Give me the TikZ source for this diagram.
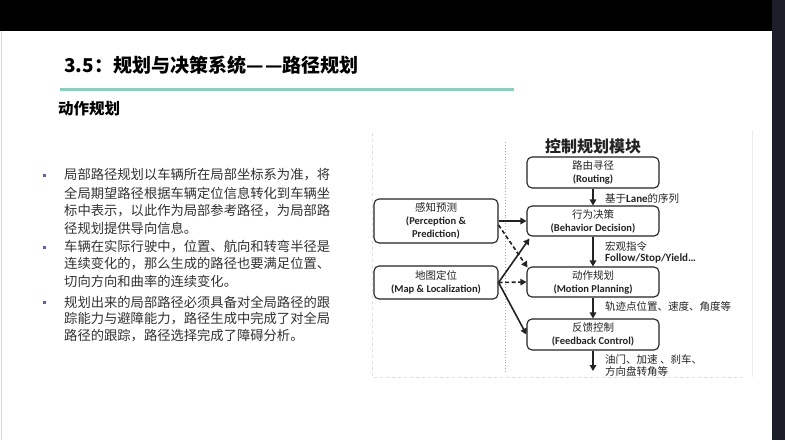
\documentclass[tikz,border=0pt]{standalone}
\usepackage{fontspec}
\setmainfont{Noto Sans CJK SC}
\newfontfamily\en{Carlito}
\usetikzlibrary{arrows.meta}
\definecolor{teal1}{RGB}{140,205,190}
\definecolor{bodytxt}{RGB}{50,50,50}
\definecolor{bulc}{RGB}{95,95,165}
\definecolor{boxc}{RGB}{35,35,35}
\definecolor{navy}{RGB}{28,30,42}
\begin{document}
\begin{tikzpicture}[x=1pt,y=-1pt,
  box/.style={draw=boxc, line width=1.1pt, rounded corners=5pt, inner sep=0pt,
    align=center, text=boxc, font=\fontsize{10.5}{13}\selectfont},
  arr/.style={-{Triangle[length=6pt,width=6.5pt]}, line width=1.6pt, draw=boxc},
  darr/.style={arr, dashed, dash pattern=on 4pt off 2.5pt},
  bline/.style={anchor=west, inner sep=0pt, text=bodytxt, font=\fontsize{13.3}{14}\selectfont},
  lbl/.style={anchor=west, inner sep=0pt, text=boxc, font=\fontsize{10.5}{12}\selectfont},
  bul/.style={fill=bulc, minimum size=3pt, inner sep=0pt}]
\useasboundingbox (0,0) rectangle (785,440);
\fill[white] (0,0) rectangle (785,440);
\fill[black] (0,0) rectangle (772,31);
\fill[navy] (772,0) rectangle (785,440);
\draw[gray!30, line width=0.6pt] (1,31) -- (1,440);

% title
\node[anchor=west, inner sep=0pt, font=\fontsize{19}{20}\selectfont\bfseries] (title) at (64,65) {3.5：规划与决策系统—\kern2pt—路径规划};
\draw[teal1, line width=3pt] (60,89) -- (514,89);
\node[anchor=west, inner sep=0pt, font=\fontsize{15.5}{16}\selectfont\bfseries] (sub) at (58,109) {动作规划};

% bullets
\node[bul] (b1) at (44.5,175) {};
\node[bline] (l1) at (64,175) {局部路径规划以车辆所在局部坐标系为准，将};
\node[bline] (l2) at (64,193) {全局期望路径根据车辆定位信息转化到车辆坐};
\node[bline] (l3) at (64,211) {标中表示，以此作为局部参考路径，为局部路};
\node[bline] (l4) at (64,228) {径规划提供导向信息。};
\node[bul] (b2) at (44.5,247) {};
\node[bline] (l5) at (64,247) {车辆在实际行驶中，位置、航向和转弯半径是};
\node[bline] (l6) at (64,264) {连续变化的，那么生成的路径也要满足位置、};
\node[bline] (l7) at (64,281) {切向方向和曲率的连续变化。};
\node[bul] (b3) at (44.5,302) {};
\node[bline] (l8) at (64,302) {规划出来的局部路径必须具备对全局路径的跟};
\node[bline] (l9) at (64,319) {踪能力与避障能力，路径生成中完成了对全局};
\node[bline] (l10) at (64,336) {路径的跟踪，路径选择完成了障碍分析。};

% faint image frame
\draw[gray!25, dashed, line width=0.5pt] (372,133) -- (372,377) -- (745,377);
\draw[gray!15, line width=0.5pt] (752,130) -- (752,377);
\draw[gray!70, dotted, line width=0.9pt] (505,142) -- (505,372);

% diagram
\node[inner sep=0pt, font=\fontsize{16}{17}\selectfont\bfseries, text=boxc] (mt) at (593,146) {控制规划模块};
\node[box, minimum width=132pt, minimum height=31pt] (rout) at (593,172.5)
  {路由寻径\\{\en\bfseries\fontsize{10.5}{13}\selectfont (Routing)}};
\node[box, minimum width=132pt, minimum height=30pt] (beh) at (593,221)
  {行为决策\\{\en\bfseries\fontsize{10.5}{13}\selectfont (Behavior Decision)}};
\node[box, minimum width=132pt, minimum height=30pt] (mot) at (593,282)
  {动作规划\\{\en\bfseries\fontsize{10.5}{13}\selectfont (Motion Planning)}};
\node[box, minimum width=132pt, minimum height=31pt] (fb) at (593,334.5)
  {反馈控制\\{\en\bfseries\fontsize{10.5}{13}\selectfont (Feedback Control)}};
\node[box, minimum width=124pt, minimum height=44pt] (per) at (436,221)
  {感知预测\\{\en\bfseries\fontsize{10.5}{13}\selectfont (Perception \&}\\{\en\bfseries\fontsize{10.5}{13}\selectfont Prediction)}};
\node[box, minimum width=124pt, minimum height=33pt] (map) at (436,282.5)
  {地图定位\\{\en\bfseries\fontsize{10.5}{13}\selectfont (Map \& Localization)}};
\coordinate (endp) at (593,371);

\draw[arr] (rout.south) -- (beh.north);
\draw[arr] (beh.south) -- (mot.north);
\draw[arr] (mot.south) -- (fb.north);
\draw[arr] (fb.south) -- (endp);

\draw[arr] (per.east) -- (beh.west);
\draw[darr] ([yshift=-4pt]per.east) -- ([xshift=1pt,yshift=-1pt]mot.north west);
\draw[arr] (map.east) -- ([xshift=3pt,yshift=-2pt]beh.south west);
\draw[darr] (map.east) -- (mot.west);
\draw[arr] (map.east) -- (fb.west);

% labels
\node[lbl] (t1) at (605,199) {基于{\en\bfseries\fontsize{11}{12}\selectfont Lane}的序列};
\node[lbl] (t2) at (605,246) {宏观指令};
\node[lbl] (t3) at (605,258.5) {\en\bfseries\fontsize{11}{12}\selectfont Follow/Stop/Yield…};
\node[lbl] (t4) at (605,307) {轨迹点位置、速度、角度等};
\node[lbl] (t5) at (605,359) {油门、加速 、刹车、};
\node[lbl] (t6) at (605,371) {方向盘转角等};
\end{tikzpicture}
\end{document}
